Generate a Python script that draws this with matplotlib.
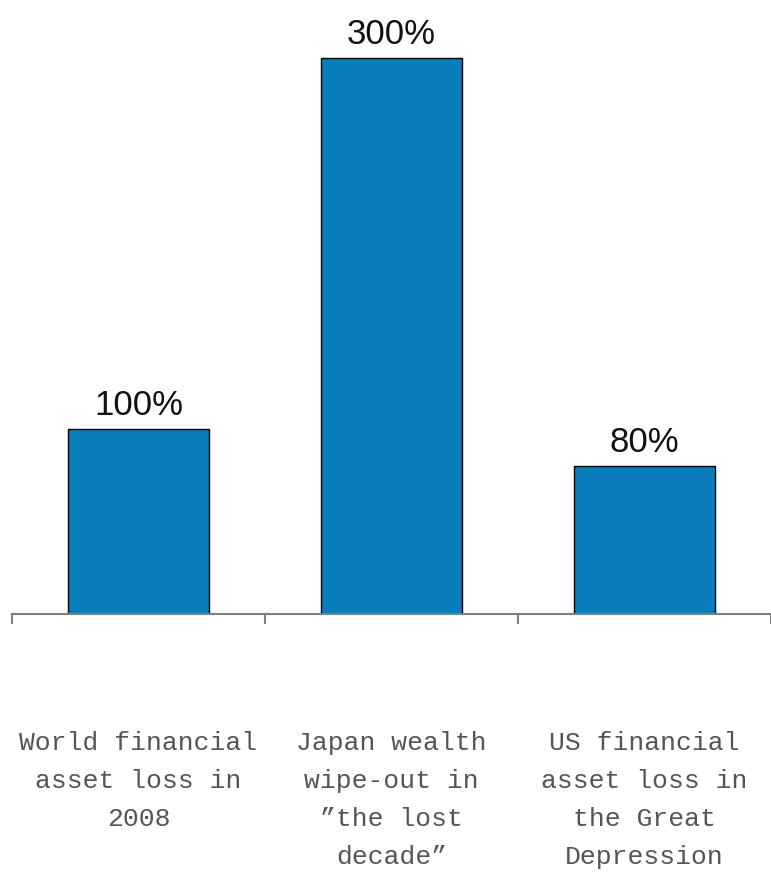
import matplotlib.pyplot as plt
import numpy as np

# data
categories = ["World financial\nasset loss in\n2008",
              "Japan wealth\nwipe-out in\n\u201dthe lost\ndecade\u201d",
              "US financial\nasset loss in\nthe Great\nDepression"]
values = [100, 300, 80]
value_labels = ["100%", "300%", "80%"]

fig = plt.figure(figsize=(7.71, 8.74), dpi=100)
ax = fig.add_axes([12 / 771, (874 - 614) / 874, 759 / 771, 612 / 874])

x = np.arange(len(categories))
bars = ax.bar(x, values, width=0.56, color="#0a7dbd", edgecolor="black", linewidth=1.0)

for b, lab in zip(bars, value_labels):
    ax.annotate(lab, (b.get_x() + b.get_width() / 2, b.get_height()),
                xytext=(0, 10), textcoords="offset points",
                ha="center", va="baseline", fontsize=25,
                family=["Liberation Sans", "DejaVu Sans"], color="#111111")

ax.set_xlim(-0.5, 2.5)
ax.set_ylim(0, 330)
ax.set_yticks([])

# boundaries get the tick marks, category names sit in between
ax.set_xticks([-0.5, 0.5, 1.5, 2.5])
ax.set_xticklabels([])
ax.set_xticks(x, minor=True)
ax.set_xticklabels(categories, minor=True, family=["Liberation Mono", "DejaVu Sans Mono"],
                   fontsize=19, color="#555555", linespacing=1.75)
ax.tick_params(axis="x", which="major", length=7, width=1.5, color="#808080", direction="out")
ax.tick_params(axis="x", which="minor", length=0, pad=84)

for s in ["top", "right", "left"]:
    ax.spines[s].set_visible(False)
ax.spines["bottom"].set_color("#808080")
ax.spines["bottom"].set_linewidth(1.5)

fig.savefig("out.png", dpi=100)
